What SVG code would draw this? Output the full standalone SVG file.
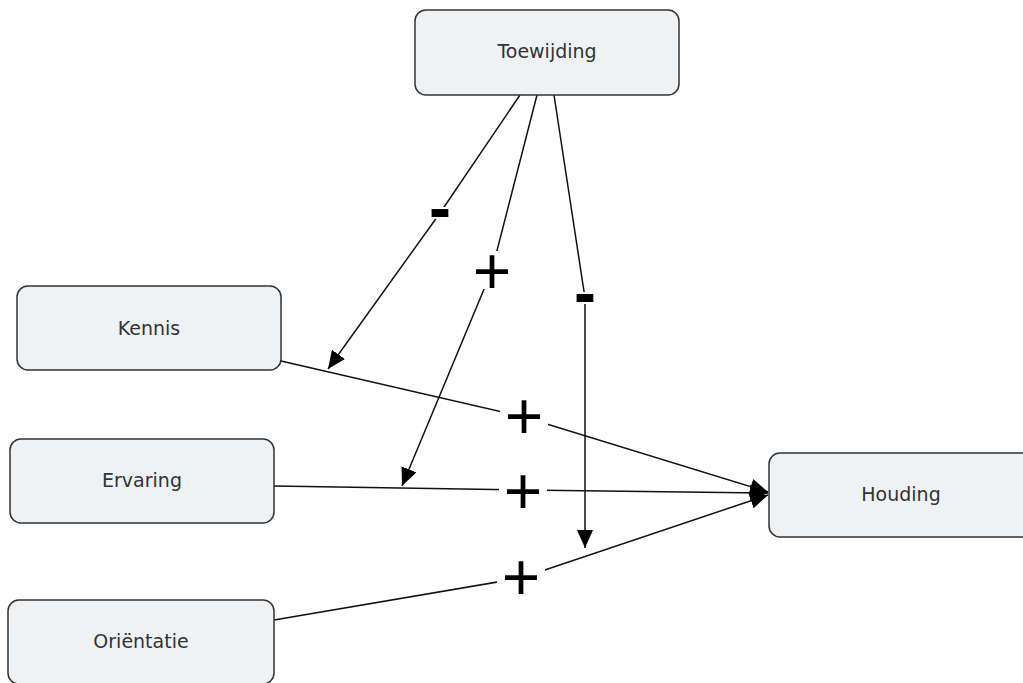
<svg xmlns="http://www.w3.org/2000/svg" width="1023" height="683" viewBox="0 0 1023 683">
<style>
.node rect{fill:#eef2f5;stroke:#333;stroke-width:1.5}
.node text{font-family:"DejaVu Sans",Verdana,sans-serif;font-size:19px;fill:#333;text-anchor:middle}
.conn polyline{fill:none;stroke:#111;stroke-width:1.5}
.bg{fill:#fff}
.lbl{font-family:"Liberation Sans",Arial,sans-serif;font-size:66px;fill:#000;text-anchor:middle}
.neg{font-weight:bold}
</style>
<defs>
<marker id="ah" markerUnits="userSpaceOnUse" markerWidth="18" markerHeight="16" refX="18" refY="8" orient="auto">
<path d="M0,0 L18,8 L0,16 Z" fill="#000"/>
</marker>
</defs>
<rect width="1023" height="683" fill="#fff"/>
<g id="connectors" class="conn">
<polyline points="281,361 524,417 768,492" marker-end="url(#ah)"/>
<polyline points="274,486 523,490 768,493" marker-end="url(#ah)"/>
<polyline points="274,620 521,578 768,495" marker-end="url(#ah)"/>
<polyline points="520,95 440,213 328,369" marker-end="url(#ah)"/>
<polyline points="537,95 492,270 402,486" marker-end="url(#ah)"/>
<polyline points="554,95 585,298 585,548" marker-end="url(#ah)"/>
<rect class="bg" x="500" y="395" width="48" height="40"/>
<rect class="bg" x="499" y="470" width="48" height="40"/>
<rect class="bg" x="497" y="558" width="48" height="40"/>
<rect class="bg" x="468" y="251" width="48" height="38"/>
<rect class="bg" x="428" y="207" width="24" height="12"/>
<rect class="bg" x="573" y="292" width="24" height="12"/>
<text class="lbl" x="524" y="439">+</text>
<text class="lbl" x="523" y="514">+</text>
<text class="lbl" x="521" y="600">+</text>
<text class="lbl" x="492" y="294">+</text>
<text class="lbl neg" x="440" y="230">-</text>
<text class="lbl neg" x="585" y="315">-</text>
</g>
<g id="toewijding" class="node"><rect x="415" y="10" width="264" height="85" rx="11"/><text x="547" y="58">Toewijding</text></g>
<g id="kennis" class="node"><rect x="17" y="286" width="264" height="84" rx="11"/><text x="149" y="335">Kennis</text></g>
<g id="ervaring" class="node"><rect x="10" y="439" width="264" height="84" rx="11"/><text x="142" y="487">Ervaring</text></g>
<g id="orientatie" class="node"><rect x="8" y="600" width="266" height="84" rx="11"/><text x="141" y="648">Oriëntatie</text></g>
<g id="houding" class="node"><rect x="769" y="453" width="264" height="84" rx="11"/><text x="901" y="501">Houding</text></g>
</svg>
